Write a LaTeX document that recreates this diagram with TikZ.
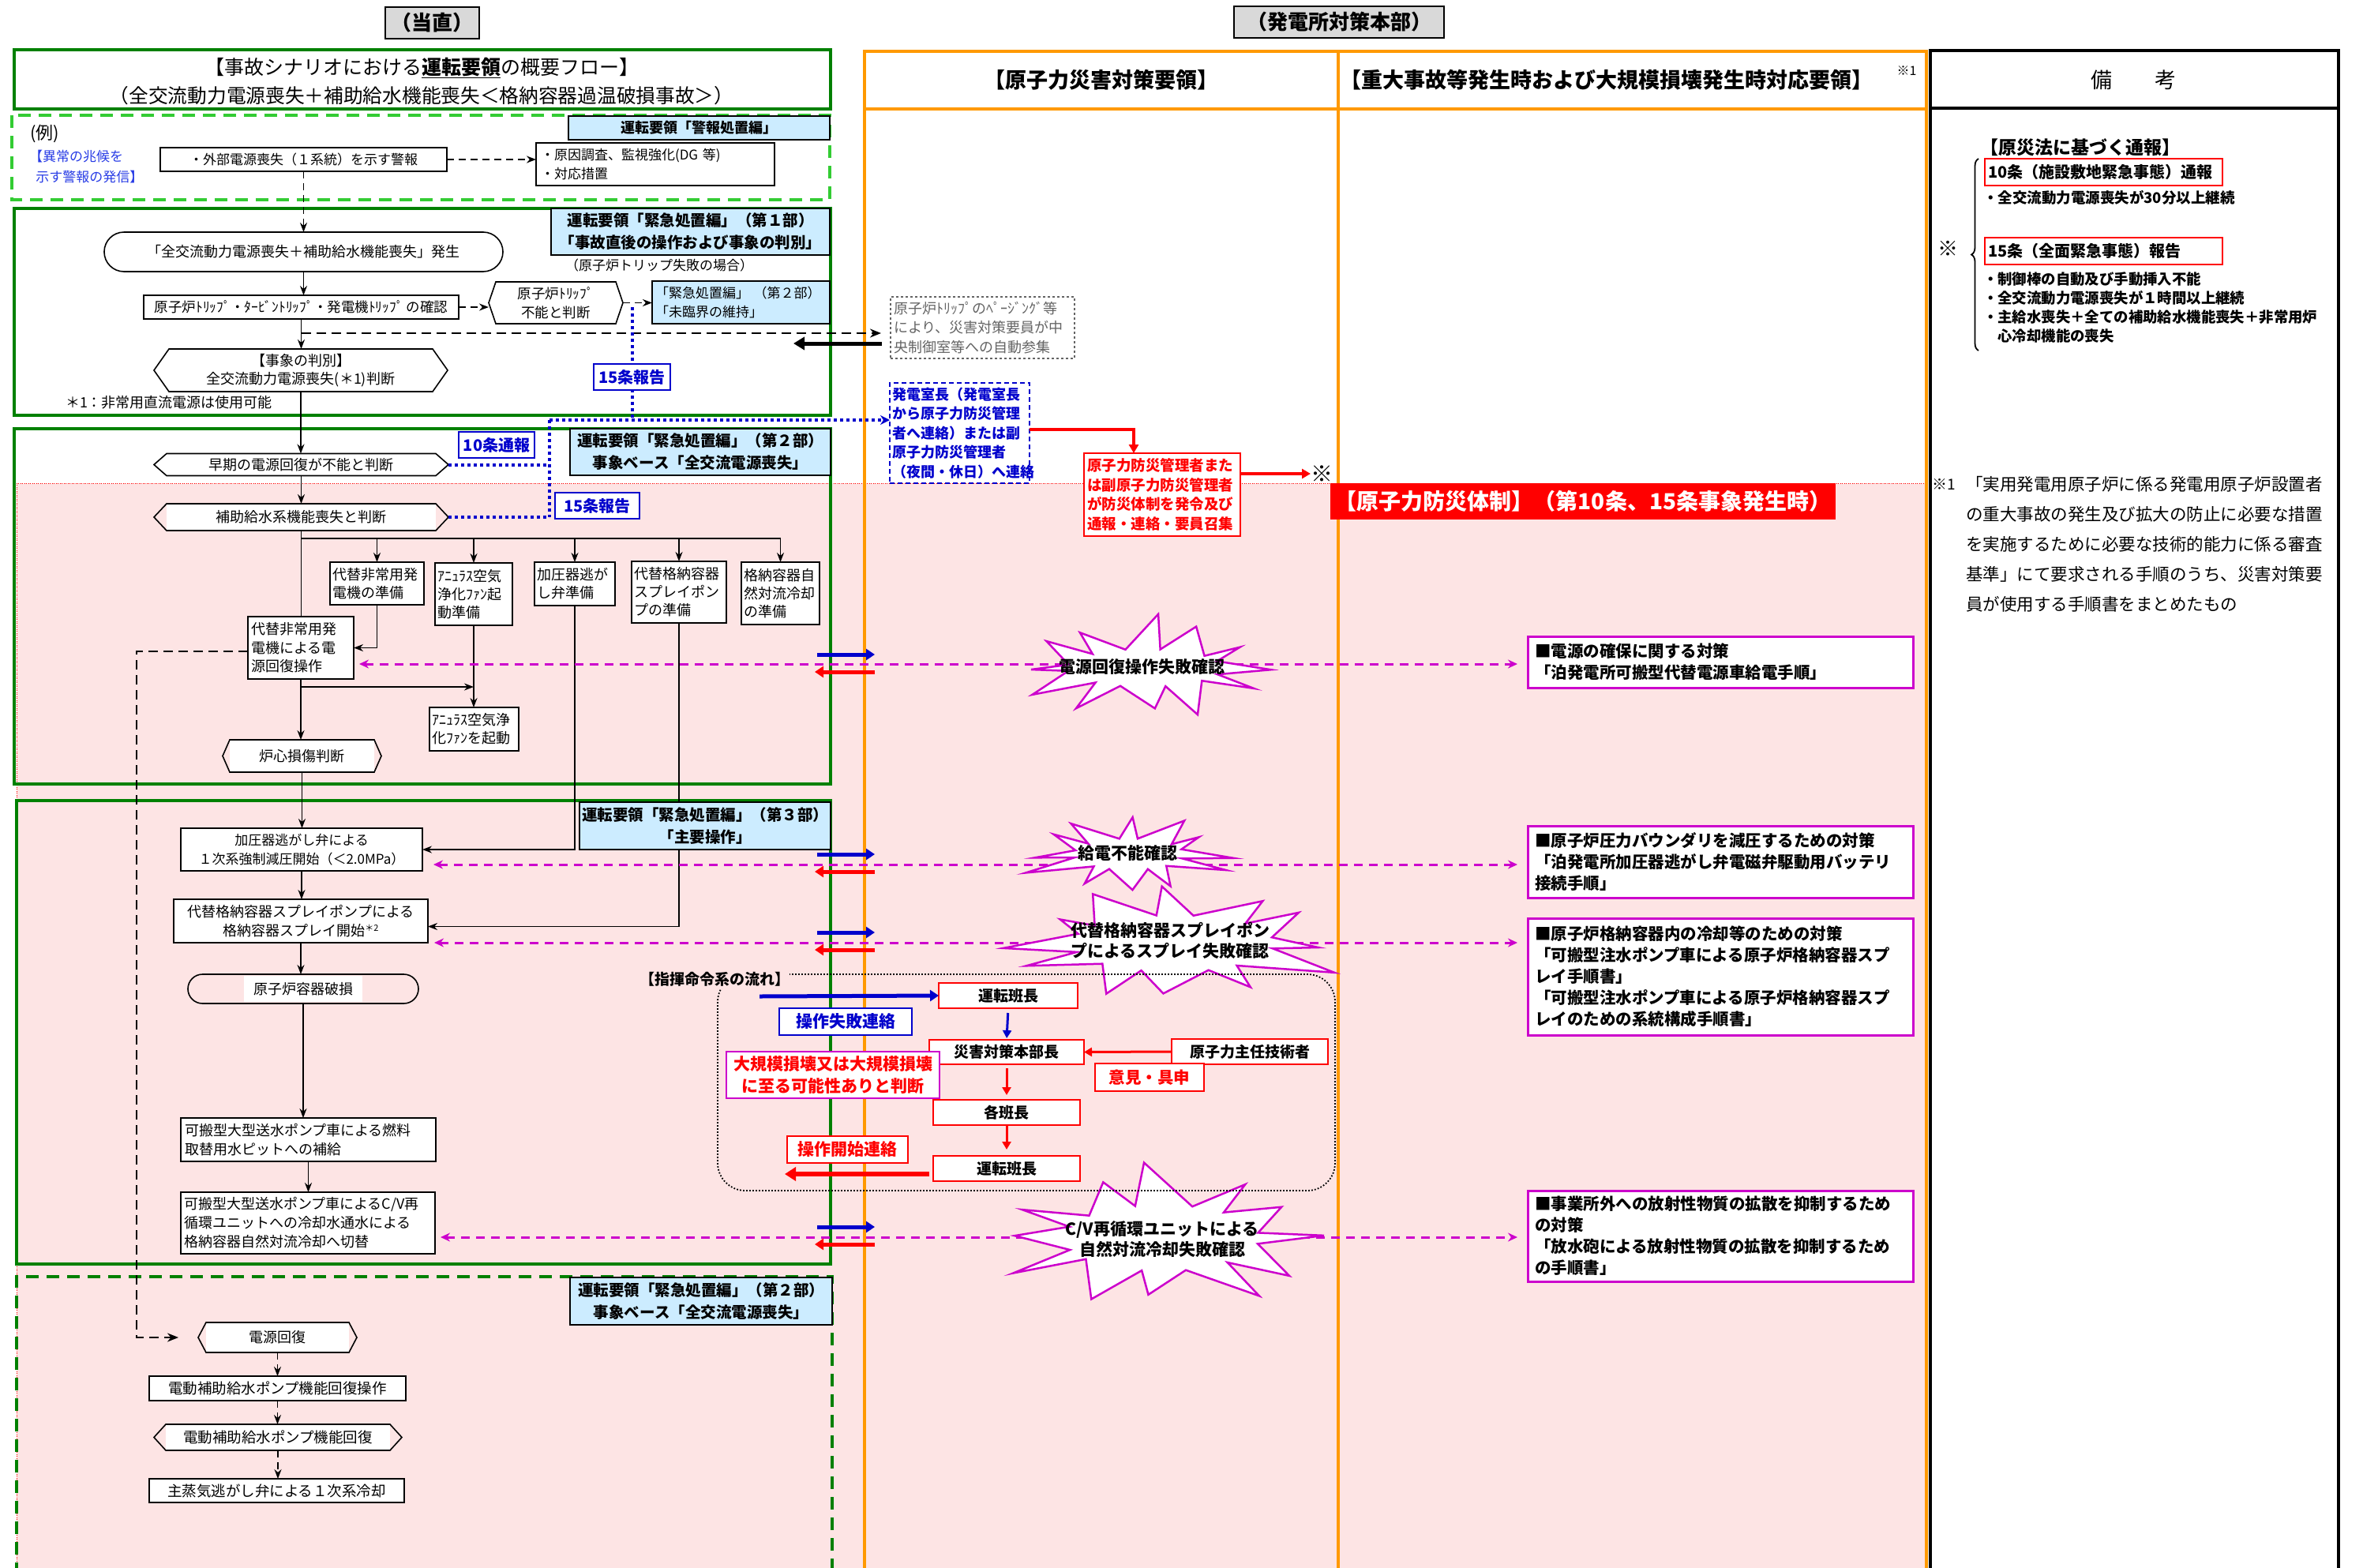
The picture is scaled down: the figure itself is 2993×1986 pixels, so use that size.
\documentclass[tikz,border=0pt]{standalone}
\usepackage{fontspec}
\setmainfont{Noto Sans CJK JP}
\usetikzlibrary{arrows.meta,shapes.misc,decorations.pathreplacing,calc}
\definecolor{ggreen}{RGB}{0,128,0}
\definecolor{lgreen}{RGB}{51,204,51}
\definecolor{orng}{RGB}{255,153,0}
\definecolor{pinkbg}{RGB}{253,228,228}
\definecolor{lblue}{RGB}{204,236,255}
\definecolor{magC}{RGB}{204,0,204}
\definecolor{blueC}{RGB}{0,0,204}
\definecolor{exblue}{RGB}{40,60,230}
\definecolor{redC}{RGB}{255,0,0}
\definecolor{grayT}{RGB}{100,100,100}
\newcommand\fsz[2]{\fontsize{#1}{#2}\selectfont}
\newcommand\hexn[8]{%
  \node[hexin, font=#7, minimum width=#4, minimum height=#5] (#1) at (#2,#3) {#8};
  \coordinate (#1-L) at ([xshift=-#6pt]#1.west);
  \coordinate (#1-R) at ([xshift=#6pt]#1.east);
  \draw[hexline] (#1-L) -- (#1.north west) -- (#1.north east) -- (#1-R) -- (#1.south east) -- (#1.south west) -- cycle;}
\newcommand\starb[7]{%
  \path[starline] plot[variable=\t, samples at={0,15,...,345}]
   ({#1+(#5+(#3*(1+0.16*sin(5*\t+#7)*cos(2*\t+#7))-#5)*(1+cos(12*\t))/2)*cos(\t+6*sin(7*\t+#7))},
    {#2+(#6+(#4*(1+0.16*sin(5*\t+#7)*cos(2*\t+#7))-#6)*(1+cos(12*\t))/2)*sin(\t+6*sin(7*\t+#7))}) -- cycle;}
\begin{document}
\begin{tikzpicture}[x=1pt,y=-1pt,
  every node/.style={inner sep=0pt, outer sep=0pt},
  fl/.style={draw, line width=1.6pt, fill=white, align=center},
  fll/.style={draw, line width=1.6pt, fill=white, align=left},
  hdrbox/.style={draw, line width=2.2pt, fill=lblue, align=center, font=\bfseries\fsz{19.5}{28}},
  hexin/.style={fill=white, align=center},
  hexline/.style={draw, line width=1.6pt, line join=miter},
  arr/.style={line width=1.6pt, -{Stealth[length=12pt,width=9pt]}},
  darr/.style={line width=1.6pt, dash pattern=on 9pt off 6pt, -{Stealth[length=12pt,width=9pt]}},
  plainln/.style={line width=1.6pt},
  secg/.style={draw=ggreen, line width=4pt},
  blkdash/.style={line width=2.4pt, dash pattern=on 12pt off 7pt},
  bdot/.style={draw=blueC, line width=4pt, dash pattern=on 4pt off 4pt},
  blbox/.style={draw=blueC, line width=2pt, fill=white, text=blueC, font=\bfseries\fsz{20}{20}},
  magd/.style={draw=magC, line width=3pt, dash pattern=on 11pt off 8pt, {Stealth[length=12pt,width=11pt]}-{Stealth[length=12pt,width=11pt]}},
  bluea/.style={draw=blueC, line width=5pt, -{Triangle[length=11pt,width=14pt]}},
  reda/.style={draw=redC, line width=5pt, -{Triangle[length=11pt,width=14pt]}},
  cbox/.style={draw=redC, line width=2.5pt, fill=white, font=\bfseries\fsz{19}{19}},
  rbox/.style={draw=magC, line width=3pt, fill=white, align=left, text width=470, font=\bfseries\fsz{20.5}{27}},
  starline/.style={draw=magC, fill=white, line width=2.5pt, line join=miter, miter limit=12},
  startxt/.style={align=center, font=\bfseries\fsz{21}{26}},
  redln/.style={draw=redC, line width=3.5pt, -{Triangle[length=11pt,width=12pt]}}
]
\useasboundingbox (0,0) rectangle (2993,1986);
\fill[white] (0,0) rectangle (2993,1986);
% pink region
\fill[pinkbg] (21,612) rectangle (2440,1990);
\draw[redC, line width=0.8pt, dash pattern=on 1pt off 1.5pt] (21,1990) -- (21,612) -- (2440,612);

% ===== top headers =====
\node[draw, line width=2.5pt, fill=gray!30, minimum width=119, minimum height=40, font=\bfseries\fsz{26}{26}] (tochoku) at (547.5,29) {（当直）};
\node[draw, line width=2.5pt, fill=gray!30, minimum width=266, minimum height=40, font=\bfseries\fsz{26}{26}] (honbu) at (1696,28) {（発電所対策本部）};

% orange columns
\draw[orng, line width=4pt] (1095,1990) -- (1095,65) -- (2440,65) -- (2440,1990);
\draw[orng, line width=4pt] (1095,138) -- (2440,138);
\draw[orng, line width=4pt] (1695,65) -- (1695,1990);
\draw[black, line width=4pt] (2445,1990) -- (2445,64) -- (2962,64) -- (2962,1990);
\draw[black, line width=4pt] (2445,137) -- (2962,137);
\node[font=\bfseries\fsz{27}{27}] (colA) at (1395,101) {【原子力災害対策要領】};
\node[anchor=west, font=\bfseries\fsz{27}{27}] (colB) at (1697,101) {【重大事故等発生時および大規模損壊発生時対応要領】};
\node[font=\fsz{16}{16}] (colBs) at (2415,90) {※1};
\node[font=\fsz{27}{27}] (bikou) at (2702,101) {備　　考};

% ===== remarks column =====
\node[anchor=west, font=\bfseries\fsz{23}{23}] (gensai) at (2508,187) {【原災法に基づく通報】};
\draw[decorate, decoration={brace, amplitude=9pt}, line width=1.8pt] (2506,444) -- (2506,201);
\node[font=\fsz{26}{26}] (kome2) at (2467,315) {※};
\node[draw=redC, line width=2pt, minimum width=301, minimum height=34, text width=293, align=left, font=\bfseries\fsz{20}{20}] (art10) at (2664.5,218) {10条（施設敷地緊急事態）通報};
\node[anchor=west, font=\bfseries\fsz{18.5}{24}] (b10) at (2512,250) {・全交流動力電源喪失が30分以上継続};
\node[draw=redC, line width=2pt, minimum width=301, minimum height=34, text width=293, align=left, font=\bfseries\fsz{20}{20}] (art15) at (2664.5,317.5) {15条（全面緊急事態）報告};
\node[anchor=west, align=left, font=\bfseries\fsz{18.4}{24.3}] (b15) at (2512,389.5) {・制御棒の自動及び手動挿入不能\\・全交流動力電源喪失が１時間以上継続\\・主給水喪失＋全ての補助給水機能喪失＋非常用炉\\\hspace*{1em}心冷却機能の喪失};
\node[anchor=west, font=\fsz{19}{19}] (fn1) at (2447,613) {※1};
\node[anchor=west, align=left, font=\fsz{21.5}{38}] (fn1t) at (2490,689) {「実用発電用原子炉に係る発電用原子炉設置者\\の重大事故の発生及び拡大の防止に必要な措置\\を実施するために必要な技術的能力に係る審査\\基準」にて要求される手順のうち、災害対策要\\員が使用する手順書をまとめたもの};

% ===== title & example =====
\draw[secg] (17.5,63) rectangle (1052,138);
\node[font=\fsz{25}{25}] (title1) at (534,86) {【事故シナリオにおける\underline{\textbf{運転要領}}の概要フロー】};
\node[font=\fsz{24.7}{25}] (title2) at (534,121) {（全交流動力電源喪失＋補助給水機能喪失＜格納容器過温破損事故＞）};
\draw[lgreen, line width=3.5pt, dash pattern=on 16pt off 10pt] (15,146) rectangle (1051,253);
\node[anchor=west, font=\fsz{22}{22}] (rei) at (38,169) {(例)};
\node[anchor=west, align=left, text=exblue, font=\fsz{17}{26}] (sign) at (37,211) {【異常の兆候を\\\hspace*{0.5em}示す警報の発信】};
\node[fl, minimum width=363, minimum height=30, font=\fsz{17}{24}] (alarm) at (384.5,202) {・外部電源喪失（１系統）を示す警報};
\node[fll, minimum width=302, minimum height=54, text width=290, font=\fsz{17}{24}] (resp) at (830,208) {・原因調査、監視強化(DG 等)\\・対応措置};
\node[hdrbox, minimum width=331, minimum height=30, font=\bfseries\fsz{18}{24}] (keiho) at (885.5,162) {運転要領「警報処置編」};
\draw[darr] (alarm.east) -- (resp.west |- alarm.east);

% ===== middle column boxes =====
\node[draw=grayT, dashed, line width=1.5pt, fill=white, minimum width=233, minimum height=78, text width=225, align=left, text=grayT, font=\fsz{18}{24.5}] (gray) at (1244.5,415) {原子炉ﾄﾘｯﾌﾟのﾍﾟｰｼﾞﾝｸﾞ等\\により、災害対策要員が中\\央制御室等への自動参集};
\node[draw=blueC, dash pattern=on 6pt off 4pt, line width=1.8pt, fill=white, minimum width=177, minimum height=127, text width=171, align=left, text=blueC, font=\bfseries\fsz{18}{24.5}] (bluebox) at (1215.5,548.5) {発電室長（発電室長\\から原子力防災管理\\者へ連絡）または副\\原子力防災管理者\\（夜間・休日）へ連絡};
\node[draw=redC, line width=2.5pt, fill=white, minimum width=198, minimum height=105, text width=190, align=left, text=redC, font=\bfseries\fsz{18.5}{24.5}] (redbox) at (1472,626.5) {原子力防災管理者また\\は副原子力防災管理者\\が防災体制を発令及び\\通報・連絡・要員召集};
\node[font=\fsz{28}{28}] (kome) at (1674,600) {※};
\draw[redln] ([yshift=4.5pt]bluebox.east) -| ([xshift=-36pt]redbox.north);
\draw[redln] ([yshift=26.5pt]redbox.east) -- (kome.west);
\node[fill=redC, text=white, minimum width=640, minimum height=46, font=\bfseries\fsz{28}{28}] (bousai) at (2005,635) {【原子力防災体制】（第10条、15条事象発生時）};

% ===== section 1 =====
\draw[secg] (17.5,264) rectangle (1052,526);
\node[hdrbox, minimum width=353, minimum height=59] (hdrA) at (874.5,293.5) {運転要領「緊急処置編」（第１部）\\「事故直後の操作および事象の判別」};
\node[font=\fsz{17}{17}] (trnote) at (835,336) {（原子炉トリップ失敗の場合）};
\node[fl, rounded rectangle, minimum width=505, minimum height=50, font=\fsz{18}{24}] (occ) at (384.5,319) {「全交流動力電源喪失＋補助給水機能喪失」発生};
\node[fl, minimum width=399, minimum height=30, font=\fsz{17.5}{24}] (trip) at (381.5,389) {原子炉ﾄﾘｯﾌﾟ・ﾀｰﾋﾞﾝﾄﾘｯﾌﾟ・発電機ﾄﾘｯﾌﾟ の確認};
\hexn{notrip}{704}{383.5}{152}{53}{9}{\fsz{17.5}{24}}{原子炉ﾄﾘｯﾌﾟ\\不能と判断}
\node[draw, line width=1.2pt, fill=lblue, minimum width=225, minimum height=54, text width=217, align=left, font=\fsz{17}{24}] (crit) at (938.5,383) {「緊急処置編」 （第２部）\\「未臨界の維持」};
\hexn{judge}{381}{469}{334}{54}{19}{\fsz{18}{23}}{【事象の判別】\\全交流動力電源喪失(＊1)判断}
\node[anchor=west, font=\fsz{18}{18}] (note1) at (83,510) {＊1：非常用直流電源は使用可能};
\draw[darr] (alarm.south) -- (occ.north);
\draw[arr] (occ.south) -- (occ.south |- trip.north);
\draw[darr] (trip.east) -- (trip.east -| notrip-L);
\draw[darr] (notrip-R) -- (notrip-R -| crit.west);
\draw[arr] (trip.south) -- (trip.south |- judge.north);
\draw[blkdash, -{Stealth[length=14pt,width=11pt]}, shorten >=12pt] (trip.south |- 0,422) -- (gray.west |- 0,422);
\coordinate (bkend) at (1005,435);
\draw[line width=5pt, -{Triangle[length=14pt,width=16pt]}] ([xshift=-11pt]gray.west |- 0,435) -- (bkend);

% ===== section 2 =====
\draw[secg] (17.5,543) rectangle (1052,993);
\hexn{early}{381.5}{588.5}{341}{28}{16}{\fsz{18}{24}}{早期の電源回復が不能と判断}
\hexn{auxfw}{381.5}{655}{341}{34}{16}{\fsz{18}{24}}{補助給水系機能喪失と判断}
\node[fll, minimum width=119, minimum height=54, text width=113, font=\fsz{18}{23}] (p1) at (477.5,739) {代替非常用発\\電機の準備};
\node[fll, minimum width=98, minimum height=79, text width=92, font=\fsz{18}{23}] (p2) at (600,752.5) {ｱﾆｭﾗｽ空気\\浄化ﾌｧﾝ起\\動準備};
\node[fll, minimum width=102, minimum height=55, text width=96, font=\fsz{18}{23}] (p3) at (728,739.5) {加圧器逃が\\し弁準備};
\node[fll, minimum width=120, minimum height=78, text width=114, font=\fsz{18}{23}] (p4) at (860,750) {代替格納容器\\スプレイポン\\プの準備};
\node[fll, minimum width=99, minimum height=79, text width=93, font=\fsz{18}{23}] (p5) at (988.5,751.5) {格納容器自\\然対流冷却\\の準備};
\node[fll, minimum width=134, minimum height=79, text width=126, font=\fsz{18}{23.5}] (altgen) at (381,820.5) {代替非常用発\\電機による電\\源回復操作};
\node[fll, minimum width=113, minimum height=55, text width=107, font=\fsz{18}{23}] (anfan) at (600.5,923.5) {ｱﾆｭﾗｽ空気浄\\化ﾌｧﾝを起動};
\hexn{core}{382.5}{957.5}{183}{41}{9}{\fsz{18}{24}}{炉心損傷判断}
\draw[arr] (judge.south) -- (judge.south |- early.north);
\draw[arr] (early.south) -- (early.south |- auxfw.north);
\draw[plainln] (auxfw.south) -- (auxfw.south |- altgen.north);
\draw[plainln] (auxfw.south |- 0,682) -- (p5.north |- 0,682);
\foreach \p in {p1,p2,p3,p4,p5} { \draw[arr] (\p.north |- 0,682) -- (\p.north); }
\draw[arr] (p1.south) |- (altgen.east);
\draw[arr] (p2.south) -- (p2.south |- anfan.north);
\draw[arr] (altgen.south) -- (altgen.south |- core.north);
\draw[arr] (altgen.south |- 0,870) -- (p2.south |- 0,870);
\node[hdrbox, minimum width=330, minimum height=59] (hdrB) at (887,572.5) {運転要領「緊急処置編」（第２部）\\事象ベース「全交流電源喪失」};

% ===== section 3 =====
\draw[secg] (21,1014) rectangle (1052,1601);
\node[fl, minimum width=306, minimum height=54, font=\fsz{17}{24}] (depress) at (382,1076) {加圧器逃がし弁による\\１次系強制減圧開始（＜2.0MPa）};
\node[fl, minimum width=322, minimum height=55, font=\fsz{18}{24}] (spray) at (381,1166.5) {代替格納容器スプレイポンプによる\\格納容器スプレイ開始\raisebox{6pt}{\fsz{11}{11}＊2}};
\node[draw, line width=1.6pt, rounded rectangle, minimum width=292, minimum height=37] (rvb) at (384,1252.5) {};
\node[fill=white, minimum height=33, minimum width=150, font=\fsz{18}{24}] (rvbt) at (rvb.center) {原子炉容器破損};
\node[fll, minimum width=323, minimum height=55, text width=313, font=\fsz{18}{24}] (refuel) at (390.5,1443.5) {可搬型大型送水ポンプ車による燃料\\取替用水ピットへの補給};
\node[fll, minimum width=322, minimum height=78, text width=314, font=\fsz{18}{24}] (cvbox) at (390,1549) {可搬型大型送水ポンプ車によるC/V再\\循環ユニットへの冷却水通水による\\格納容器自然対流冷却へ切替};
\draw[arr] (core.south) -- (core.south |- depress.north);
\draw[arr] (p3.south) |- (depress.east);
\draw[arr] (p4.south) |- ([yshift=-7pt]spray.east);
\draw[arr] (depress.south) -- (depress.south |- spray.north);
\draw[arr] (spray.south) -- (spray.south |- rvb.north);
\draw[arr] (rvb.south) -- (rvb.south |- refuel.north);
\draw[arr] (refuel.south) -- (refuel.south |- cvbox.north);
\node[hdrbox, minimum width=318, minimum height=60] (hdrC) at (893,1046) {運転要領「緊急処置編」（第３部）\\「主要操作」};

% ===== section 2b =====
\draw[ggreen, line width=3.5pt, dash pattern=on 16pt off 10pt] (21,1995) -- (21,1617) -- (1054,1617) -- (1054,1995);
\node[hdrbox, minimum width=332, minimum height=60] (hdrD) at (888,1648) {運転要領「緊急処置編」（第２部）\\事象ベース「全交流電源喪失」};
\hexn{pwr}{351.5}{1694}{181}{38}{10}{\fsz{18}{24}}{電源回復}
\node[fl, minimum width=325, minimum height=31, font=\fsz{18.5}{24}] (mfw) at (351.5,1758.5) {電動補助給水ポンプ機能回復操作};
\hexn{mfwr}{352}{1820.5}{284}{33}{15}{\fsz{18.5}{24}}{電動補助給水ポンプ機能回復}
\node[fl, minimum width=323, minimum height=30, font=\fsz{18.5}{24}] (msr) at (350.5,1888) {主蒸気逃がし弁による１次系冷却};
\draw[darr] (pwr.south) -- (pwr.south |- mfw.north);
\draw[darr] (mfw.south) -- (mfw.south |- mfwr.north);
\draw[darr] (mfwr.south) -- (mfwr.south |- msr.north);
\coordinate (pwrin) at ([xshift=-25pt]pwr-L);
\draw[blkdash, -{Stealth[length=14pt,width=11pt]}] ([yshift=-4.5pt]altgen.west) -| ($(pwrin)+(-53,0)$) -- (pwrin);

% ===== blue dotted notification lines =====
\coordinate (bv1) at (801,389);
\coordinate (bj) at (696,532);
\draw[bdot] (bv1) -- (bv1 |- bj);
\draw[bdot, -{Stealth[length=12pt,width=12pt]}] (bj) -- (bluebox.west |- bj);
\draw[bdot] (bj) -- (bj |- auxfw-R);
\draw[bdot] (early-R) -- (early-R -| bj);
\draw[bdot] (auxfw-R) -- (auxfw-R -| bj);
\node[blbox, minimum width=97, minimum height=33] (r15a) at (800.5,477.5) {15条報告};
\node[blbox, minimum width=96, minimum height=33] (r10) at (629,563.5) {10条通報};
\node[blbox, minimum width=107, minimum height=33] (r15b) at (756.5,640.5) {15条報告};

% ===== right procedure boxes =====
\node[rbox, minimum width=488, minimum height=65] (r1) at (2179,838.5) {■電源の確保に関する対策\\「泊発電所可搬型代替電源車給電手順」};
\node[rbox, minimum width=488, minimum height=91] (r2) at (2179,1091.5) {■原子炉圧力バウンダリを減圧するための対策\\「泊発電所加圧器逃がし弁電磁弁駆動用バッテリ\\接続手順」};
\node[rbox, minimum width=488, minimum height=148] (r3) at (2179,1237) {■原子炉格納容器内の冷却等のための対策\\「可搬型注水ポンプ車による原子炉格納容器スプ\\レイ手順書」\\「可搬型注水ポンプ車による原子炉格納容器スプ\\レイのための系統構成手順書」};
\node[rbox, minimum width=488, minimum height=115] (r4) at (2179,1565.5) {■事業所外への放射性物質の拡散を抑制するため\\の対策\\「放水砲による放射性物質の拡散を抑制するため\\の手順書」};

% magenta dashed links
\draw[magd, shorten <=7pt, shorten >=13pt] (altgen.east |- 0,841) -- (r1.west |- 0,841);
\draw[magd, shorten <=14pt, shorten >=13pt] (depress.east |- 0,1095) -- (r2.west |- 0,1095);
\draw[magd, shorten <=8pt, shorten >=13pt] (spray.east |- 0,1194) -- (r3.west |- 0,1194);
\draw[magd, shorten <=7pt, shorten >=13pt] (cvbox.east |- 0,1567) -- (r4.west |- 0,1567);
\foreach \m in {842,1095,1194,1567} {
  \draw[bluea] (1035,\m-13) -- (1108,\m-13);
  \draw[reda] (1108,\m+9) -- (1032,\m+9);
}

% starbursts
\starb{1450}{846}{152}{60}{98}{24}{20}
\node[startxt] (s1) at (1446,845) {電源回復操作失敗確認};
\starb{1430}{1082}{126}{46}{70}{20}{70}
\node[startxt] (s2) at (1428,1080) {給電不能確認};
\starb{1486}{1195}{200}{68}{128}{36}{130}
\node[startxt] (s3) at (1482,1191) {代替格納容器スプレイポン\\プによるスプレイ失敗確認};
\starb{1471}{1568}{196}{84}{124}{42}{200}
\node[startxt] (s4) at (1472,1570) {C/V再循環ユニットによる\\自然対流冷却失敗確認};

% ===== command flow =====
\draw[line width=1.8pt, dash pattern=on 1.8pt off 2.2pt, rounded corners=35pt] (909,1234) rectangle (1691,1508);
\node[anchor=west, fill=pinkbg, font=\bfseries\fsz{19}{19}, minimum height=24] (cmdlab) at (810,1240) {【指揮命令系の流れ】};
\node[cbox, minimum width=176, minimum height=32] (op1) at (1277,1261) {運転班長};
\node[cbox, minimum width=196, minimum height=31] (hq) at (1275,1332.5) {災害対策本部長};
\node[cbox, minimum width=198, minimum height=32] (chief) at (1583,1332) {原子力主任技術者};
\node[cbox, minimum width=186, minimum height=32] (each) at (1275,1409) {各班長};
\node[cbox, minimum width=186, minimum height=32] (op2) at (1275,1480) {運転班長};
\node[blbox, minimum width=168, minimum height=34, font=\bfseries\fsz{21}{21}] (failc) at (1071,1294) {操作失敗連絡};
\node[draw=magC, line width=2.5pt, fill=white, minimum width=270, minimum height=59, align=center, text=redC, font=\bfseries\fsz{21}{28}] (large) at (1055,1361.5) {大規模損壊又は大規模損壊\\に至る可能性ありと判断};
\node[draw=redC, line width=2.5pt, fill=white, minimum width=138, minimum height=35, text=redC, font=\bfseries\fsz{20.5}{20.5}] (opin) at (1456,1364.5) {意見・具申};
\node[draw=redC, line width=2.5pt, fill=white, minimum width=153, minimum height=34, text=redC, font=\bfseries\fsz{21}{21}] (startc) at (1073.5,1456) {操作開始連絡};
\coordinate (bst) at (962,1262);
\draw[bluea] (bst) -- (op1.west);
\draw[draw=blueC, line width=3pt, -{Triangle[length=10pt,width=11pt]}, shorten <=6pt, shorten >=2pt] (op1.south) -- (hq.north);
\draw[draw=redC, line width=3pt, -{Triangle[length=10pt,width=11pt]}] (chief.west) -- (hq.east);
\draw[draw=redC, line width=3pt, -{Triangle[length=10pt,width=11pt]}, shorten <=5pt, shorten >=6pt] (hq.south) -- (each.north);
\draw[draw=redC, line width=3pt, -{Triangle[length=10pt,width=11pt]}, shorten >=8pt] (each.south) -- (op2.north);
\coordinate (rst) at (994,1487);
\draw[draw=redC, line width=6pt, -{Triangle[length=14pt,width=17pt]}] ([xshift=-5pt,yshift=-7pt]op2.west) -- (rst);
\end{tikzpicture}
\end{document}
